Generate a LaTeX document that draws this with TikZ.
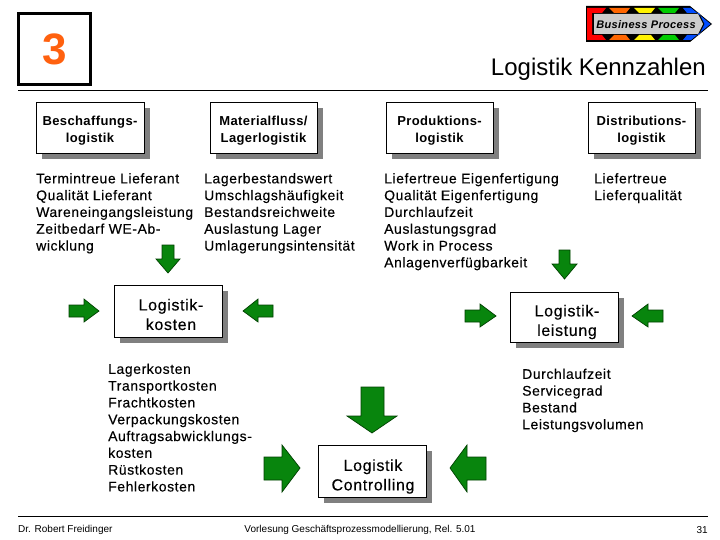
\documentclass[tikz,border=0pt]{standalone}
\usepackage{fontspec}
\setmainfont{Liberation Sans}
\definecolor{gfill}{rgb}{0.03,0.52,0.05}
\definecolor{gline}{rgb}{0.0,0.25,0.0}
\definecolor{numcol}{rgb}{1,0.38,0.06}
\tikzset{
 x=1pt,y=-1pt,
 listtxt/.style={anchor=north west,align=left,inner sep=0pt,font=\fontsize{14}{16.8}\selectfont\addfontfeatures{LetterSpace=4,FakeBold=0.2}},
 smalltitle/.style={font=\fontsize{13}{17}\selectfont\bfseries\addfontfeatures{LetterSpace=3}},
 bigtitle/.style={font=\fontsize{16}{19.5}\selectfont\addfontfeatures{LetterSpace=4,FakeBold=0.2}},
 garrow/.style={draw=gline,fill=gfill,line width=0.7pt,line join=miter},
 rulel/.style={line width=0.9pt},
 footertxt/.style={inner sep=0pt,font=\fontsize{10}{12}\selectfont},
}
% name, x1,y1,x2,y2, text offset x, text offset y, text style, text
\newcommand{\Sbox}[9]{%
 \fill[black!50] (#2+6,#3+6) rectangle (#4+6,#5+6);
 \node[draw=black,fill=white,line width=0.9pt,inner sep=0pt,minimum width=#4-#2,minimum height=#5-#3] (#1) at ({(#2+#4)/2},{(#3+#5)/2}) {};
 \node[align=center,inner sep=0pt,#8] (#1t) at ({(#2+#4)/2+#6},{(#3+#5)/2+#7}) {#9};
}
\begin{document}
\begin{tikzpicture}
\useasboundingbox (0,0) rectangle (720,540);
\fill[white] (0,0) rectangle (720,540);
% rules
\coordinate (ra) at (18,90); \coordinate (rb) at (708,90);
\coordinate (fa) at (18,516); \coordinate (fb) at (708,516);
\draw[rulel] (ra)--(rb);
\draw[rulel] (fa)--(fb);
% number box
\node[draw=black,line width=2.6pt,fill=white,minimum width=72pt,minimum height=71pt,inner sep=0pt,font=\fontsize{44}{44}\selectfont\bfseries,text=numcol] (num) at (54.5,49) {3};
% logo
\fill[black] (586,6) -- (690,6) -- (712,24) -- (690,42) -- (586,42) -- cycle;
\fill[red] (587,8) -- (606,8) -- (602,13) -- (592,13) -- (592,35) -- (602,35) -- (606,40) -- (587,40) -- cycle;
\foreach \xa/\c in {609/orange!80!red,634/yellow,658/green!80!black}{
 \fill[\c] (\xa,8) -- (\xa+21,8) -- (\xa+17,13) -- (\xa+5,13) -- cycle;
 \fill[\c] (\xa+5,35) -- (\xa+17,35) -- (\xa+21,40) -- (\xa,40) -- cycle;
}
\fill[blue!70!cyan] (683,8) -- (691,8) -- (710.5,24) -- (691,40) -- (683,40) -- (687,35) -- (699,35) -- (704.5,24) -- (699,13) -- (687,13) -- cycle;
\fill[black!20] (594,14) -- (698,14) -- (703,24) -- (698,34) -- (594,34) -- cycle;
\node[inner sep=0pt,font=\fontsize{11}{12}\selectfont\bfseries\itshape\addfontfeatures{LetterSpace=3}] (logo) at (646,24.5) {Business Process};
% title
\node[anchor=base east,inner sep=0pt,font=\fontsize{24}{28}\selectfont] (title) at (706,76) {Logistik Kennzahlen};
% boxes
\Sbox{b1}{36}{102}{144}{153}{0}{3}{smalltitle}{Beschaffungs-\\logistik}
\Sbox{b2}{210}{102}{317}{153}{0}{3}{smalltitle}{Materialfluss/\\Lagerlogistik}
\Sbox{b3}{386}{102}{493}{153}{0}{3}{smalltitle}{Produktions-\\logistik}
\Sbox{b4}{588}{102}{695}{153}{0}{3}{smalltitle}{Distributions-\\logistik}
\Sbox{k}{114}{285}{222}{337}{3}{3.5}{bigtitle}{Logistik-\\kosten}
\Sbox{l}{510}{292}{618}{342}{3}{5}{bigtitle}{Logistik-\\leistung}
\Sbox{c}{318}{445}{426}{497}{1}{5.5}{bigtitle}{Logistik\\Controlling}
% lists
\node[listtxt] (t1) at (36,173) {Termintreue Lieferant\\Qualität Lieferant\\Wareneingangsleistung\\Zeitbedarf WE-Ab-\\wicklung};
\node[listtxt] (t2) at (204,173) {Lagerbestandswert\\Umschlagshäufigkeit\\Bestandsreichweite\\Auslastung Lager\\Umlagerungsintensität};
\node[listtxt] (t3) at (384,173) {Liefertreue Eigenfertigung\\Qualität Eigenfertigung\\Durchlaufzeit\\Auslastungsgrad\\Work in Process\\Anlagenverfügbarkeit};
\node[listtxt] (t4) at (594,173) {Liefertreue\\Lieferqualität};
\node[listtxt] (t5) at (108,363.5) {Lagerkosten\\Transportkosten\\Frachtkosten\\Verpackungskosten\\Auftragsabwicklungs-\\kosten\\Rüstkosten\\Fehlerkosten};
\node[listtxt] (t6) at (522,368.5) {Durchlaufzeit\\Servicegrad\\Bestand\\Leistungsvolumen};
% arrows
\draw[garrow] (162,245)--(174,245)--(174,259)--(180,259)--(168,273)--(156,259)--(162,259)--cycle;
\draw[garrow] (69,305)--(84,305)--(84,299)--(99,311)--(84,322)--(84,317)--(69,317)--cycle;
\draw[garrow] (273,305)--(258,305)--(258,299)--(243,311)--(258,322)--(258,317)--(273,317)--cycle;
\draw[garrow] (559,250)--(570,250)--(570,264)--(577,264)--(564.5,279)--(552,264)--(559,264)--cycle;
\draw[garrow] (465,310)--(480,310)--(480,304)--(496,316)--(480,327)--(480,322)--(465,322)--cycle;
\draw[garrow] (663,310)--(648,310)--(648,304)--(632,316)--(648,327)--(648,322)--(663,322)--cycle;
\draw[garrow] (361,387)--(384,387)--(384,416)--(397,416)--(372,433)--(347,416)--(361,416)--cycle;
\draw[garrow] (264,457)--(282,457)--(282,445)--(300,468)--(282,492)--(282,480)--(264,480)--cycle;
\draw[garrow] (486,457)--(467,457)--(467,445)--(450,468)--(467,492)--(467,480)--(486,480)--cycle;
% footer
\node[footertxt,anchor=base west] (f1) at (18,532) {Dr. Robert Freidinger};
\node[footertxt,anchor=base] (f2) at (360,532) {Vorlesung Geschäftsprozessmodellierung, Rel. 5.01};
\node[footertxt,anchor=base east] (f3) at (708,533) {31};
\end{tikzpicture}
\end{document}
